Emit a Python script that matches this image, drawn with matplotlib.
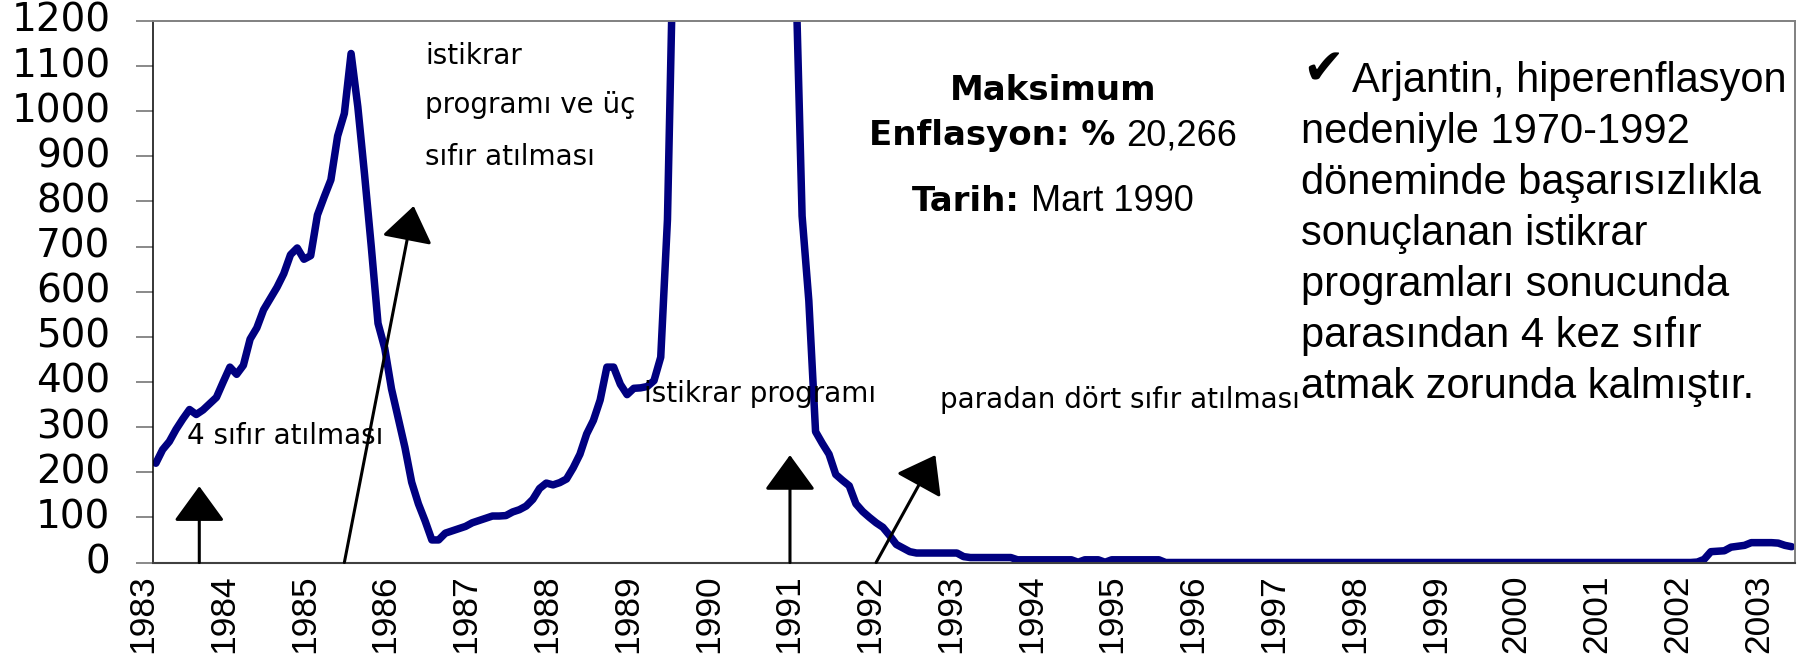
import matplotlib
matplotlib.use("Agg")
import matplotlib.pyplot as plt
import matplotlib.transforms as mtransforms
from matplotlib.patches import FancyArrowPatch

plt.rcParams['font.family'] = ['DejaVu Sans']

# ---------------- data (annual CPI inflation, %, monthly Jan 1983 - Apr 2003) ----------------
years = list(range(1983, 2004))
infl_1983 = [220, 250, 268, 295, 318, 339, 328, 338, 352, 366, 400, 433]
infl_1984 = [417, 437, 495, 520, 560, 585, 610, 640, 682, 697, 672, 680]
infl_1985 = [770, 810, 848, 945, 995, 1128, 1010, 860, 700, 530, 475, 385]
infl_1986 = [320, 255, 178, 130, 92, 50, 50, 65, 70, 75, 80, 88]
infl_1987 = [93, 98, 103, 103, 104, 112, 117, 125, 140, 164, 176, 172]
infl_1988 = [177, 185, 210, 240, 285, 315, 360, 433, 433, 395, 372, 386]
infl_1989 = [387, 390, 403, 455, 760, 1471, 3079, 3600, 3800, 4100, 4600, 4923]
infl_1990 = [6340, 11100, 20266, 12000, 9400, 7600, 5100, 3500, 2300, 1830, 1500, 1344]
infl_1991 = [768, 580, 290, 264, 240, 195, 182, 170, 130, 113, 100, 88]
infl_1992 = [78, 60, 40, 32, 24, 21, 21, 21, 21, 21, 21, 21]
infl_1993 = [13, 11, 11, 11, 11, 11, 11, 11, 6, 6, 6, 6]
infl_1994 = [6, 6, 6, 6, 6, 0.5, 6, 6, 6, 0.5, 6, 6]
infl_1995 = [6, 6, 6, 6, 6, 6, 0, 0, 0, 0, 0, 0]
infl_1996 = [0, 0, 0, 0, 0, 0, 0, 0, 0, 0, 0, 0]
infl_1997 = [0, 0, 0, 0, 0, 0, 0, 0, 0, 0, 0, 0]
infl_1998 = [0, 0, 0, 0, 0, 0, 0, 0, 0, 0, 0, 0]
infl_1999 = [0, 0, 0, 0, 0, 0, 0, 0, 0, 0, 0, 0]
infl_2000 = [0, 0, 0, 0, 0, 0, 0, 0, 0, 0, 0, 0]
infl_2001 = [0, 0, 0, 0, 0, 0, 0, 0, 0, 0, 0, 0]
infl_2002 = [0, 1, 7, 24, 25, 26, 34, 36, 38, 44, 44, 44]
infl_2003 = [44, 43, 38, 35]

inflation = (infl_1983 + infl_1984 + infl_1985 + infl_1986 + infl_1987 + infl_1988 +
             infl_1989 + infl_1990 + infl_1991 + infl_1992 + infl_1993 + infl_1994 +
             infl_1995 + infl_1996 + infl_1997 + infl_1998 + infl_1999 + infl_2000 +
             infl_2001 + infl_2002 + infl_2003)
y_ticks = [0, 100, 200, 300, 400, 500, 600, 700, 800, 900, 1000, 1100, 1200]

# annotation arrows: (x_start_month, y_start, x_end_month, y_end)
arrows = [
    (6.95, 0, 6.95, 169),
    (28.5, 0, 38.8, 790),
    (94.7, 0, 94.7, 238),
    (107.5, 0, 116.3, 238),
]

# ---------------- figure ----------------
W, H = 1811, 656
fig = plt.figure(figsize=(W / 100, H / 100), dpi=100)
fig.patch.set_facecolor('white')


def fx(px):
    return px / W


def fy(py):
    return 1 - py / H


L, R, T, B = 152.5, 1795, 21, 562.5
ax = fig.add_axes([fx(L), fy(B), (R - L) / W, (B - T) / H])

n = len(inflation)
xs = [i + 0.5 for i in range(n)]
ax.plot(xs, inflation, color='#000080', lw=5.4, solid_joinstyle='round',
        solid_capstyle='round', zorder=2)
ax.set_xlim(0, n)
ax.set_ylim(0, 1200)

# y axis
ax.set_yticks(y_ticks)
ax.set_yticklabels([str(v) for v in y_ticks], fontsize=28, family='DejaVu Sans',
                   va='center')
ax.tick_params(axis='y', direction='out', length=12.2, width=1.3, color='#808080',
               pad=18, labelcolor='black')

# x axis
xt = [12 * k + 0.5 for k in range(len(years))]
ax.set_xticks(xt)
ax.set_xticklabels([str(y) for y in years], rotation=90, fontsize=25.5,
                   family='Liberation Sans')
ax.tick_params(axis='x', length=0, pad=8.5)

for side, col, lw in [('left', 'black', 1.1), ('bottom', '#404040', 1.5),
                      ('top', '#808080', 1.4), ('right', '#808080', 1.4)]:
    ax.spines[side].set_color(col)
    ax.spines[side].set_linewidth(lw)

# arrows
for x0, y0, x1, y1 in arrows:
    arr = FancyArrowPatch((x0, y0), (x1, y1),
                          arrowstyle='-|>,head_length=22,head_width=16',
                          mutation_scale=1, lw=2.2, color='black',
                          shrinkA=0, shrinkB=0, zorder=4, clip_on=False)
    ax.add_patch(arr)

# annotation texts (positions in figure pixels)
ann_font = dict(family='DejaVu Sans', fontsize=20, color='black', va='baseline', ha='left')
fig.text(fx(187), fy(444), '4 sıfır atılması', **ann_font)
fig.text(fx(425), fy(64), 'istikrar', **ann_font)
fig.text(fx(425), fy(113), 'programı ve üç', **ann_font)
fig.text(fx(425), fy(165), 'sıfır atılması', **ann_font)
fig.text(fx(644), fy(402), 'istikrar programı', **ann_font)
fig.text(fx(940), fy(408), 'paradan dört sıfır atılması', **ann_font)

# Maksimum block
cx = 1053
bold = dict(family='DejaVu Sans', weight='bold', fontsize=24.5, color='black', va='baseline')
norm = dict(family='Liberation Sans', fontsize=26, color='black', va='baseline')
fig.text(fx(cx), fy(100), 'Maksimum', ha='center', **bold)

renderer = fig.canvas.get_renderer()


def composite(y, part1, part2, gap=11):
    t1 = fig.text(0, fy(y), part1, ha='left', **bold)
    t2 = fig.text(0, fy(y), part2, ha='left', **norm)
    w1 = t1.get_window_extent(renderer).width
    w2 = t2.get_window_extent(renderer).width
    x0 = cx - (w1 + gap + w2) / 2
    t1.set_x(fx(x0))
    t2.set_x(fx(x0 + w1 + gap))


composite(145, 'Enflasyon: %', '20,266')
composite(211, 'Tarih:', 'Mart 1990')

# Arjantin text block
fig.text(fx(1302), fy(84), '✔', family='DejaVu Sans', fontsize=36, va='baseline',
         ha='left', color='black')
body = dict(family='Liberation Sans', fontsize=30, color='black', va='baseline', ha='left')
fig.text(fx(1352), fy(92), 'Arjantin, hiperenflasyon', **body)
lines = ['nedeniyle 1970-1992', 'döneminde başarısızlıkla', 'sonuçlanan istikrar',
         'programları sonucunda', 'parasından 4 kez sıfır', 'atmak zorunda kalmıştır.']
for i, s in enumerate(lines):
    fig.text(fx(1301), fy(143 + 51 * i), s, **body)

# shift x tick labels slightly left, as in the original
offset = mtransforms.ScaledTranslation(-0.13, 0, fig.dpi_scale_trans)
for lbl in ax.get_xticklabels():
    lbl.set_transform(lbl.get_transform() + offset)

fig.savefig('out.png', dpi=100, facecolor='white')
